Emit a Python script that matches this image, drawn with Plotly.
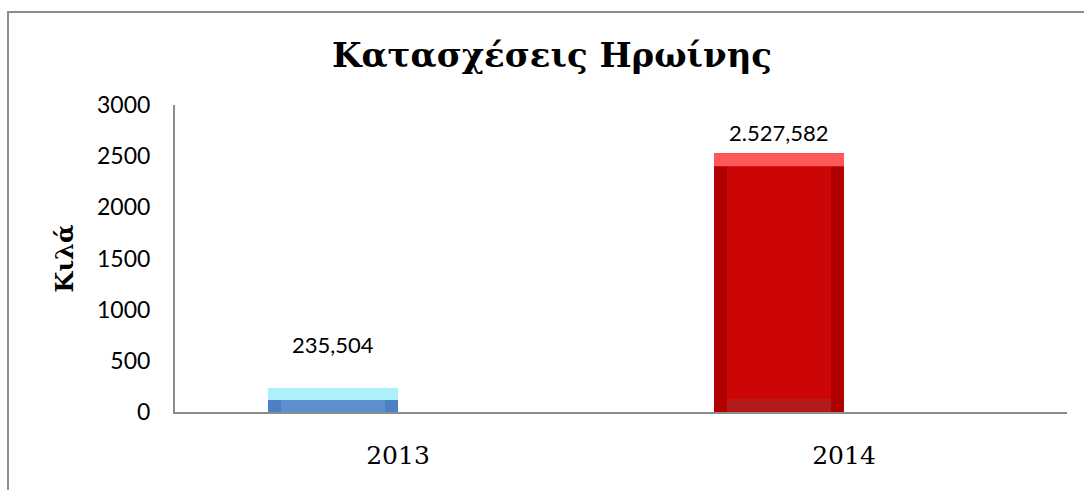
import numpy as np
import plotly.graph_objects as go

# ---- data ----
years = ["2013", "2014"]
kilos = [235.504, 2527.582]
y_ticks = [0, 500, 1000, 1500, 2000, 2500, 3000]
title_text = "Κατασχέσεις Ηρωίνης"
y_title = "Κιλά"

# ---- styles ----
top_col = ["#aeeffc", "#ff5858"]
face_col = ["#5b8fd0", "#cc0606"]
side_col = ["#4c7fc4", "#b00000"]
bottom_col = ["#5b8fd0", "#b41a1a"]
label_shift = [43, 21]

W = 0.2915          # bar width (category units)
BX = 0.029          # bevel width (category units)
BY = 127.0          # bevel height (data units)

vals = np.array(kilos)
idx = np.arange(len(years))
by = np.minimum(BY, vals / 2)

fig = go.Figure()
common = dict(x=idx, hoverinfo="skip", showlegend=False)
# outer (sides)
fig.add_trace(go.Bar(y=vals, base=0, width=W, offset=-W,
                     marker=dict(color=side_col, line=dict(width=0)), **common))
# bottom strip
fig.add_trace(go.Bar(y=by, base=0, width=W - 2 * BX, offset=-W + BX,
                     marker=dict(color=bottom_col, line=dict(width=0)), **common))
# face
fig.add_trace(go.Bar(y=np.maximum(vals - 2 * by, 0), base=by, width=W - 2 * BX, offset=-W + BX,
                     marker=dict(color=face_col, line=dict(width=0)), **common))
# top strip
fig.add_trace(go.Bar(y=by, base=vals - by, width=W, offset=-W,
                     marker=dict(color=top_col, line=dict(width=0)), **common))

for i, v in enumerate(kilos):
    txt = f"{v:,.3f}".replace(",", "X").replace(".", ",").replace("X", ".")
    fig.add_annotation(x=idx[i] - W / 2, y=v, text=txt, showarrow=False,
                       yanchor="middle", yshift=label_shift[i],
                       font=dict(family="Lato", size=22, color="#000"))

fig.update_layout(
    width=1084, height=490,
    barmode="overlay",
    paper_bgcolor="white", plot_bgcolor="white",
    margin=dict(l=175, r=17, t=105, b=78),
    title=dict(text=f"<b>{title_text}</b>", x=552 / 1084, xanchor="center",
               y=1 - 55 / 490, yanchor="middle", yref="container",
               font=dict(family="DejaVu Serif", size=34, color="#000")),
    xaxis=dict(type="linear", range=[-0.5, 1.5], tickmode="array", tickvals=idx,
               ticktext=years, showgrid=False, zeroline=False, showline=True,
               linecolor="#8c8c8c", linewidth=2, ticks="", ticklabelstandoff=20,
               automargin=False,
               tickfont=dict(family="DejaVu Serif", size=25, color="#000")),
    yaxis=dict(range=[0, 3000], tickmode="array", tickvals=y_ticks,
               showgrid=False, zeroline=False, showline=True,
               linecolor="#8c8c8c", linewidth=2, ticks="", ticklabelstandoff=18,
               automargin=False,
               tickfont=dict(family="Lato", size=23, color="#000"),
               title=dict(text=f"<b>{y_title}</b>", standoff=17,
                          font=dict(family="DejaVu Serif", size=24, color="#000"))),
    shapes=[dict(type="rect", xref="paper", yref="paper",
                 x0=(8 - 175) / 892, x1=1.05, y0=-0.4, y1=(411.6 - 12) / 306.6,
                 line=dict(color="#8c8c8c", width=2), fillcolor="rgba(0,0,0,0)",
                 layer="below")],
)

fig.write_html("out.html", config={"displayModeBar": False},
               post_script="document.body.style.margin='0';document.body.style.overflow='hidden';")
